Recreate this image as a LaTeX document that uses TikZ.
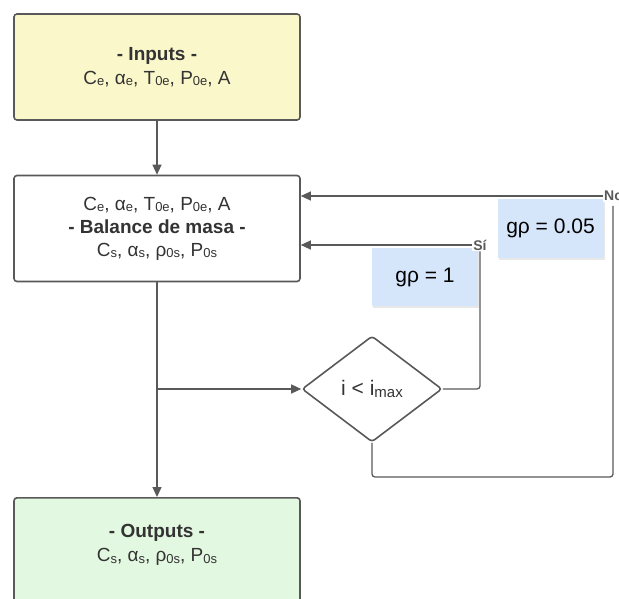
\documentclass[tikz,border=0pt]{standalone}
\usepackage{fontspec}
\setmainfont{Liberation Sans}
\usetikzlibrary{arrows.meta,shapes.geometric,shadows}
\definecolor{edgegray}{HTML}{595959}
\definecolor{txtgray}{HTML}{333333}
\definecolor{inyellow}{HTML}{FAF8CB}
\definecolor{outgreen}{HTML}{E3F8E1}
\definecolor{noteblue}{HTML}{D5E5FA}
\newcommand{\sbt}[1]{\raisebox{-0.15ex}{\fontsize{13}{14}\selectfont #1}}
\newcommand{\sbd}[1]{\raisebox{-0.15ex}{\fontsize{15}{16}\selectfont #1}}
\tikzset{
  procbox/.style={draw=edgegray, line width=1.6pt, rounded corners=3pt, minimum width=286pt, minimum height=106pt, inner sep=0pt, align=center, text=txtgray, font=\fontsize{19}{23}\selectfont},
  notebox/.style={fill=noteblue, minimum width=106pt, minimum height=58pt, inner sep=0pt, text=black, font=\fontsize{21}{24}\selectfont, drop shadow={opacity=0.18, shadow xshift=1pt, shadow yshift=-2pt}},
  conn/.style={draw=edgegray, line width=1.3pt, rounded corners=3pt},
  arr/.style={conn, -{Triangle[length=10pt,width=9pt]}},
  lbl/.style={fill=white, inner sep=1pt, text=edgegray, font=\bfseries\fontsize{14}{16}\selectfont},
  decis/.style={diamond, draw=edgegray, line width=1.6pt, rounded corners=3pt, minimum width=140pt, minimum height=106pt, inner sep=0pt, aspect=1.32, text=txtgray, font=\fontsize{21}{24}\selectfont}
}
\begin{document}
\begin{tikzpicture}[x=1pt,y=-1pt]
\useasboundingbox (0,0) rectangle (619,599);
\node[procbox, fill=inyellow] (in) at (157,67) {\textbf{- Inputs -}\\[1pt] C\sbt{e}, α\sbt{e}, T\sbt{0e}, P\sbt{0e}, A};
\node[procbox, fill=white] (bal) at (157,228.5) {C\sbt{e}, α\sbt{e}, T\sbt{0e}, P\sbt{0e}, A\\ \textbf{- Balance de masa -}\\ C\sbt{s}, α\sbt{s}, ρ\sbt{0s}, P\sbt{0s}};
\node[procbox, fill=outgreen, anchor=north] (out) at (157,497) {};
\node[txtgray, align=center, font=\fontsize{19}{23}\selectfont] (outtxt) at (157,545) {\textbf{- Outputs -}\\[1pt] C\sbt{s}, α\sbt{s}, ρ\sbt{0s}, P\sbt{0s}};
\node[decis] (dec) at (372,389) {i < i\sbd{max}};
\node[notebox] (g1) at (425,277) {gρ = 1};
\node[notebox] (g2) at (550.5,228.5) {gρ = 0.05};
\coordinate (br) at (157,389);
\node[lbl] (si) at (480,245) {Sí};
\node[lbl, anchor=west] (no) at (603,196) {No};
\draw[arr] (in.south) -- (bal.north);
\draw[arr] (bal.south) -- (out.north);
\draw[arr] (br) -- (dec.west);
\draw[conn] (dec.east) -| (si.south);
\draw[arr] (si.west) -- (bal.east |- si.west);
\draw[conn] (dec.south) |- (613,477) -- (613,206);
\draw[arr] (no.west) -- (bal.east |- no.west);
\end{tikzpicture}
\end{document}
